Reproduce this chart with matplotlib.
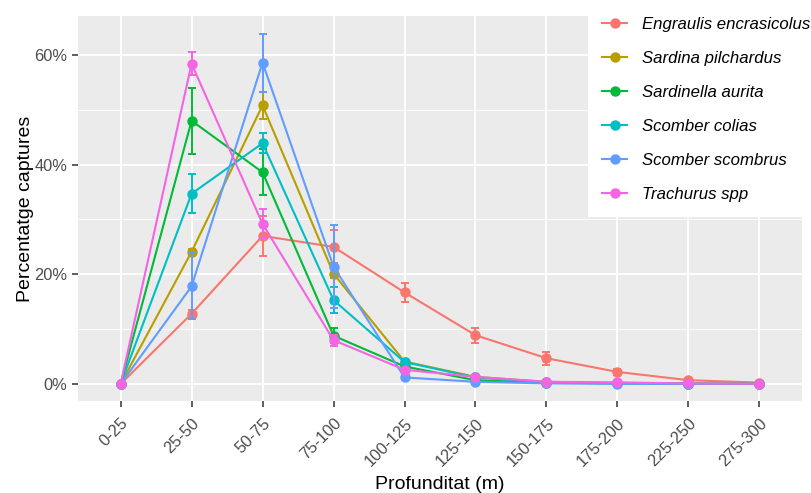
import matplotlib
matplotlib.use("Agg")
import matplotlib.pyplot as plt
from matplotlib.ticker import FuncFormatter, FixedLocator
import numpy as np

plt.rcParams['font.family'] = ['Liberation Sans', 'DejaVu Sans']

categories = ['0-25', '25-50', '50-75', '75-100', '100-125', '125-150',
              '150-175', '175-200', '225-250', '275-300']

species = ['Engraulis encrasicolus', 'Sardina pilchardus', 'Sardinella aurita',
           'Scomber colias', 'Scomber scombrus', 'Trachurus spp']
colors = ['#F8766D', '#B79F00', '#00BA38', '#00BFC4', '#619CFF', '#F564E3']

engraulis = [0, 12.8, 27.0, 25.0, 16.7, 8.9, 4.7, 2.2, 0.7, 0.25]
engraulis_err = [0, 0.7, 3.6, 3.0, 1.7, 1.4, 1.2, 0.6, 0.3, 0.1]
sardina = [0, 24.1, 50.8, 20.1, 4.1, 1.3, 0.4, 0.2, 0.1, 0.05]
sardina_err = [0, 0.6, 2.4, 0.8, 0.4, 0.2, 0.1, 0.05, 0.02, 0.01]
sardinella = [0, 48.0, 38.6, 8.8, 3.2, 0.7, 0.2, 0.1, 0.05, 0.02]
sardinella_err = [0, 6.0, 4.2, 1.4, 0.5, 0.2, 0.1, 0.05, 0.02, 0.01]
colias = [0, 34.7, 43.9, 15.3, 4.0, 1.2, 0.3, 0.1, 0.05, 0.02]
colias_err = [0, 3.5, 1.8, 2.4, 0.5, 0.2, 0.1, 0.05, 0.02, 0.01]
scombrus = [0, 17.8, 58.6, 21.4, 1.2, 0.4, 0.1, 0.05, 0.02, 0.01]
scombrus_err = [0, 6.0, 5.3, 7.6, 0.3, 0.1, 0.05, 0.02, 0.01, 0.01]
trachurus = [0, 58.4, 29.2, 8.0, 2.6, 1.3, 0.4, 0.3, 0.1, 0.05]
trachurus_err = [0, 2.1, 2.7, 1.0, 0.4, 0.3, 0.1, 0.05, 0.02, 0.01]

series = [engraulis, sardina, sardinella, colias, scombrus, trachurus]
errors = [engraulis_err, sardina_err, sardinella_err, colias_err, scombrus_err, trachurus_err]

W, H = 811, 493
fig = plt.figure(figsize=(W / 100, H / 100), dpi=100)
ax = fig.add_axes([78 / W, 1 - 401 / H, (802 - 78) / W, (401 - 16) / H])
ax.set_facecolor('#EBEBEB')
for s in ax.spines.values():
    s.set_visible(False)

x = np.arange(len(categories))
handles = []
for i, (name, vals, err, c) in enumerate(zip(species, series, errors, colors)):
    ax.errorbar(x, vals, yerr=err, fmt='none', ecolor=c, elinewidth=1.4,
                capsize=3, capthick=1.4, zorder=3 + i * 0.1)
    h, = ax.plot(x, vals, color=c, lw=1.5, marker='o', markersize=6.5,
                 zorder=3 + i * 0.1 + 0.05, label=name)
    handles.append(h)

ax.set_xlim(-0.6, len(categories) - 0.4)
ax.set_ylim(-3.1, 67.1)
ax.set_xticks(x)
ax.set_xticklabels(categories, rotation=45, ha='right', va='top',
                   rotation_mode='anchor', fontsize=11.8, color='#4D4D4D')
ax.yaxis.set_major_locator(FixedLocator([0, 20, 40, 60]))
ax.yaxis.set_minor_locator(FixedLocator([10, 30, 50]))
ax.yaxis.set_major_formatter(FuncFormatter(lambda v, p: f"{v:.0f}%"))
ax.tick_params(axis='y', labelsize=11.8, labelcolor='#4D4D4D')
ax.tick_params(axis='both', which='major', color='#333333', length=4, width=1.1)
ax.tick_params(axis='x', which='major', pad=6.5)
ax.tick_params(axis='y', which='minor', length=0)
ax.grid(True, which='major', color='white', lw=1.3, zorder=0)
ax.grid(True, which='minor', axis='y', color='white', lw=0.6, zorder=0)
ax.set_axisbelow(True)

ax.set_xlabel('Profunditat (m)', fontsize=14, color='black', labelpad=5)
ax.set_ylabel('Percentatge captures', fontsize=14, color='black', labelpad=0.5)

leg = fig.legend(handles=handles, loc='upper left',
                 bbox_to_anchor=(588 / W, 1.0 - 3 / H),
                 frameon=True, fancybox=False, framealpha=1,
                 facecolor='white', edgecolor='white',
                 prop={'style': 'italic', 'size': 12.1},
                 handlelength=1.5, handletextpad=0.85, labelspacing=1.13,
                 borderpad=0.85, borderaxespad=0)
leg.get_frame().set_linewidth(0)

fig.savefig('out.png', dpi=100)
